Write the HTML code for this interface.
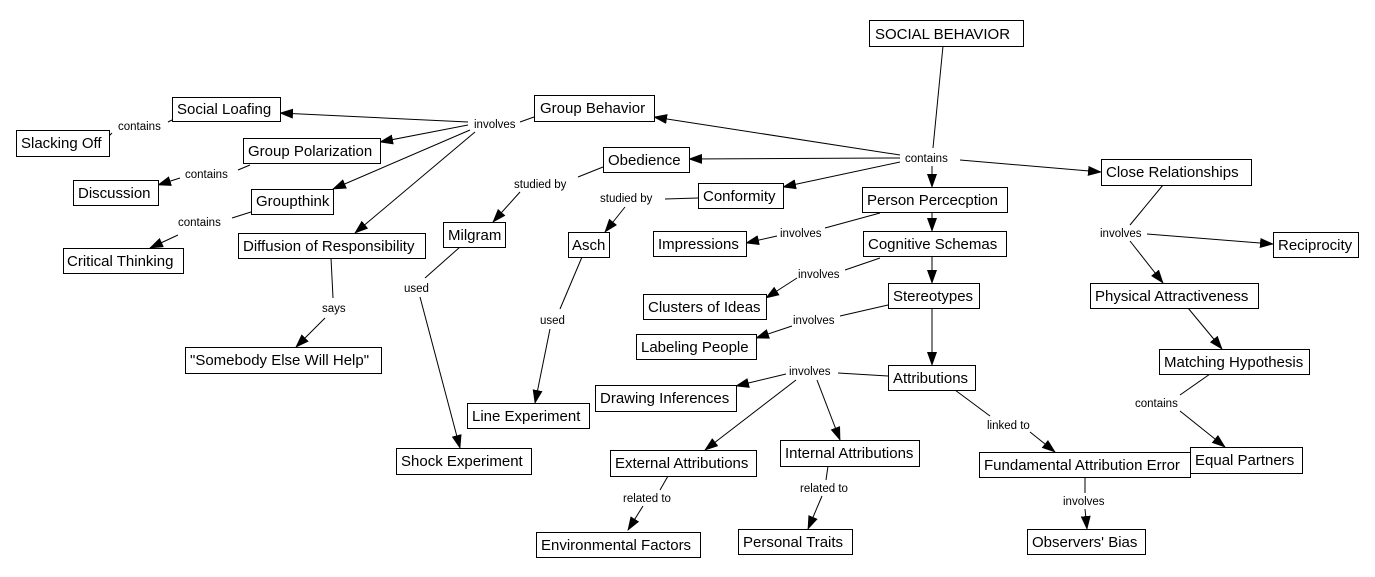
<!DOCTYPE html>
<html><head><meta charset="utf-8"><style>
html,body{margin:0;padding:0;background:#fff;}
svg{display:block;}
.b{fill:#fff;stroke:#000;stroke-width:1;}
.t{font-family:"Liberation Sans",sans-serif;font-size:15px;fill:#000;}
.l{font-family:"Liberation Sans",sans-serif;font-size:11.5px;fill:#000;}
line{stroke:#000;stroke-width:1;}
</style></head><body>
<svg width="1375" height="577" viewBox="0 0 1375 577" xmlns="http://www.w3.org/2000/svg">
<defs><marker id="a" markerWidth="14" markerHeight="10" refX="13" refY="5" orient="auto" markerUnits="userSpaceOnUse"><path d="M0,0 L14,5 L0,10 z" fill="#000"/></marker></defs>
<g>
<!-- SB hub -->
<line x1="943" y1="46" x2="933" y2="148"/>
<line x1="900" y1="155" x2="654" y2="117" marker-end="url(#a)"/>
<line x1="900" y1="158" x2="689" y2="159" marker-end="url(#a)"/>
<line x1="900" y1="162" x2="783" y2="187" marker-end="url(#a)"/>
<line x1="932" y1="166" x2="932" y2="187" marker-end="url(#a)"/>
<line x1="960" y1="160" x2="1101" y2="172" marker-end="url(#a)"/>
<line x1="932" y1="212" x2="932" y2="231" marker-end="url(#a)"/>
<line x1="932" y1="256" x2="932" y2="283" marker-end="url(#a)"/>
<line x1="932" y1="308" x2="932" y2="365" marker-end="url(#a)"/>
<line x1="880" y1="213" x2="825" y2="228"/>
<line x1="777" y1="236" x2="746" y2="243" marker-end="url(#a)"/>
<line x1="880" y1="258" x2="845" y2="270"/>
<line x1="797" y1="278" x2="766" y2="298" marker-end="url(#a)"/>
<line x1="888" y1="305" x2="840" y2="316"/>
<line x1="792" y1="326" x2="756" y2="338" marker-end="url(#a)"/>
<line x1="888" y1="376" x2="838" y2="373"/>
<line x1="786" y1="374" x2="736" y2="386" marker-end="url(#a)"/>
<line x1="796" y1="380" x2="705" y2="450" marker-end="url(#a)"/>
<line x1="817" y1="380" x2="840" y2="440" marker-end="url(#a)"/>
<line x1="955" y1="390" x2="990" y2="416"/>
<line x1="1030" y1="432" x2="1055" y2="452" marker-end="url(#a)"/>
<line x1="668" y1="476" x2="660" y2="490"/>
<line x1="643" y1="506" x2="628" y2="530" marker-end="url(#a)"/>
<line x1="828" y1="466" x2="826" y2="480"/>
<line x1="822" y1="496" x2="808" y2="529" marker-end="url(#a)"/>
<line x1="1085" y1="477" x2="1085" y2="493"/>
<line x1="1085" y1="509" x2="1087" y2="529" marker-end="url(#a)"/>
<line x1="1163" y1="185" x2="1130" y2="225"/>
<line x1="1147" y1="234" x2="1273" y2="244" marker-end="url(#a)"/>
<line x1="1130" y1="241" x2="1163" y2="283" marker-end="url(#a)"/>
<line x1="1188" y1="308" x2="1222" y2="349" marker-end="url(#a)"/>
<line x1="1210" y1="374" x2="1180" y2="395"/>
<line x1="1180" y1="411" x2="1225" y2="447" marker-end="url(#a)"/>
<!-- group behavior -->
<line x1="534" y1="117" x2="520" y2="122"/>
<line x1="468" y1="122" x2="280" y2="113" marker-end="url(#a)"/>
<line x1="468" y1="125" x2="380" y2="142" marker-end="url(#a)"/>
<line x1="470" y1="130" x2="333" y2="189" marker-end="url(#a)"/>
<line x1="475" y1="132" x2="355" y2="233" marker-end="url(#a)"/>
<line x1="172" y1="120" x2="168" y2="122"/>
<line x1="112" y1="133" x2="109" y2="136"/>
<line x1="250" y1="165" x2="238" y2="170"/>
<line x1="180" y1="178" x2="158" y2="185" marker-end="url(#a)"/>
<line x1="251" y1="212" x2="232" y2="218"/>
<line x1="178" y1="235" x2="150" y2="248" marker-end="url(#a)"/>
<line x1="331" y1="258" x2="333" y2="298"/>
<line x1="325" y1="318" x2="296" y2="347" marker-end="url(#a)"/>
<line x1="603" y1="167" x2="578" y2="177"/>
<line x1="520" y1="192" x2="493" y2="222" marker-end="url(#a)"/>
<line x1="460" y1="247" x2="425" y2="278"/>
<line x1="420" y1="297" x2="460" y2="448" marker-end="url(#a)"/>
<line x1="698" y1="198" x2="665" y2="199"/>
<line x1="625" y1="207" x2="605" y2="232" marker-end="url(#a)"/>
<line x1="582" y1="257" x2="560" y2="309"/>
<line x1="550" y1="329" x2="535" y2="403" marker-end="url(#a)"/>
</g>
<!-- link labels -->
<g class="l">
<rect x="901" y="150" width="58" height="16" fill="#fff"/><text x="905" y="162">contains</text>
<text x="474" y="128">involves</text>
<text x="118" y="130">contains</text>
<text x="185" y="178">contains</text>
<text x="178" y="226">contains</text>
<text x="514" y="188">studied by</text>
<text x="600" y="202">studied by</text>
<text x="322" y="312">says</text>
<text x="404" y="292">used</text>
<text x="540" y="324">used</text>
<text x="780" y="237">involves</text>
<text x="798" y="278">involves</text>
<text x="793" y="324">involves</text>
<text x="789" y="375">involves</text>
<text x="987" y="429">linked to</text>
<text x="623" y="502">related to</text>
<text x="800" y="492">related to</text>
<text x="1063" y="505">involves</text>
<text x="1100" y="237">involves</text>
<text x="1135" y="407">contains</text>
</g>
<!-- boxes -->
<g>
<rect class="b" x="869.5" y="20.5" width="154" height="26"/><text class="t" x="875" y="39">SOCIAL BEHAVIOR</text>
<rect class="b" x="534.5" y="95.5" width="120" height="26"/><text class="t" x="540" y="113">Group Behavior</text>
<rect class="b" x="172.5" y="97.5" width="108" height="24"/><text class="t" x="177" y="114">Social Loafing</text>
<rect class="b" x="16.5" y="130.5" width="93" height="26"/><text class="t" x="21" y="148">Slacking Off</text>
<rect class="b" x="243.5" y="138.5" width="137" height="25"/><text class="t" x="248" y="156">Group Polarization</text>
<rect class="b" x="73.5" y="180.5" width="85" height="25"/><text class="t" x="78" y="198">Discussion</text>
<rect class="b" x="251.5" y="189.5" width="82" height="25"/><text class="t" x="256" y="206">Groupthink</text>
<rect class="b" x="63.5" y="248.5" width="120" height="25"/><text class="t" x="67" y="266">Critical Thinking</text>
<rect class="b" x="238.5" y="233.5" width="187" height="25"/><text class="t" x="243" y="251">Diffusion of Responsibility</text>
<rect class="b" x="603.5" y="147.5" width="86" height="25"/><text class="t" x="608" y="165">Obedience</text>
<rect class="b" x="443.5" y="222.5" width="62" height="25"/><text class="t" x="448" y="240">Milgram</text>
<rect class="b" x="698.5" y="183.5" width="85" height="25"/><text class="t" x="703" y="201">Conformity</text>
<rect class="b" x="568.5" y="232.5" width="41" height="25"/><text class="t" x="572" y="250">Asch</text>
<rect class="b" x="862.5" y="187.5" width="145" height="25"/><text class="t" x="867" y="205">Person Percecption</text>
<rect class="b" x="863.5" y="231.5" width="143" height="25"/><text class="t" x="868" y="249">Cognitive Schemas</text>
<rect class="b" x="888.5" y="283.5" width="91" height="25"/><text class="t" x="893" y="301">Stereotypes</text>
<rect class="b" x="888.5" y="365.5" width="87" height="25"/><text class="t" x="893" y="383">Attributions</text>
<rect class="b" x="653.5" y="231.5" width="93" height="25"/><text class="t" x="658" y="249">Impressions</text>
<rect class="b" x="643.5" y="294.5" width="123" height="25"/><text class="t" x="648" y="312">Clusters of Ideas</text>
<rect class="b" x="636.5" y="334.5" width="120" height="25"/><text class="t" x="641" y="352">Labeling People</text>
<rect class="b" x="595.5" y="385.5" width="141" height="26"/><text class="t" x="600" y="403">Drawing Inferences</text>
<rect class="b" x="467.5" y="403.5" width="122" height="25"/><text class="t" x="472" y="421">Line Experiment</text>
<rect class="b" x="396.5" y="448.5" width="135" height="26"/><text class="t" x="401" y="466">Shock Experiment</text>
<rect class="b" x="185.5" y="347.5" width="196" height="26"/><text class="t" x="190" y="365">"Somebody Else Will Help"</text>
<rect class="b" x="610.5" y="450.5" width="146" height="26"/><text class="t" x="615" y="468">External Attributions</text>
<rect class="b" x="780.5" y="440.5" width="139" height="26"/><text class="t" x="785" y="458">Internal Attributions</text>
<rect class="b" x="536.5" y="532.5" width="164" height="25"/><text class="t" x="541" y="550">Environmental Factors</text>
<rect class="b" x="738.5" y="529.5" width="114" height="25"/><text class="t" x="743" y="547">Personal Traits</text>
<rect class="b" x="1190.5" y="447.5" width="112" height="26"/><text class="t" x="1195" y="465">Equal Partners</text>
<rect class="b" x="979.5" y="452.5" width="211" height="25"/><text class="t" x="984" y="470">Fundamental Attribution Error</text>
<rect class="b" x="1027.5" y="529.5" width="118" height="25"/><text class="t" x="1032" y="547">Observers' Bias</text>
<rect class="b" x="1101.5" y="159.5" width="150" height="26"/><text class="t" x="1106" y="177">Close Relationships</text>
<rect class="b" x="1273.5" y="232.5" width="85" height="25"/><text class="t" x="1278" y="250">Reciprocity</text>
<rect class="b" x="1090.5" y="283.5" width="168" height="25"/><text class="t" x="1095" y="301">Physical Attractiveness</text>
<rect class="b" x="1159.5" y="349.5" width="150" height="25"/><text class="t" x="1164" y="367">Matching Hypothesis</text>
</g>
</svg>
</body></html>
